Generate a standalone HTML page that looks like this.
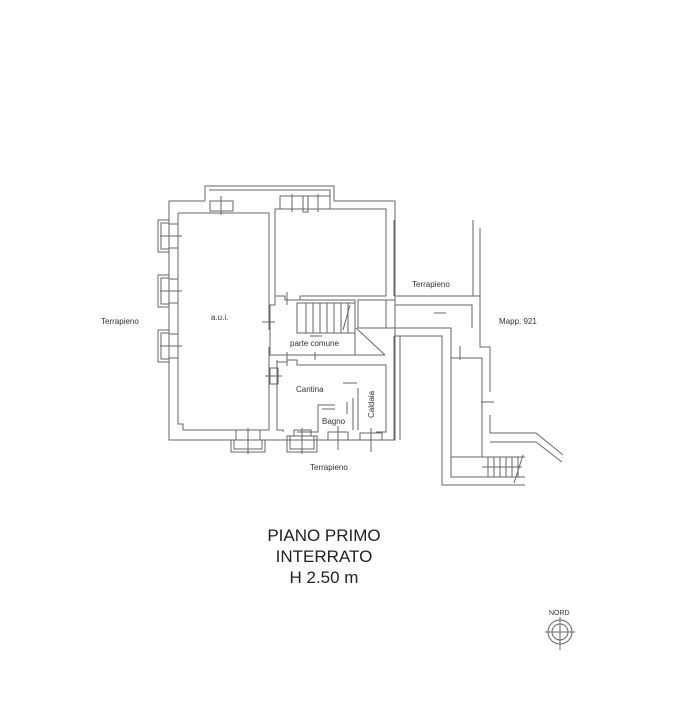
<!DOCTYPE html><html><head><style>body{margin:0;background:#fff}svg{display:block}</style></head><body>
<svg width="673" height="722" viewBox="0 0 673 722" font-family="Liberation Sans, sans-serif">
<g fill="none" stroke="#666" stroke-width="1">
<path d="M205,201 H169 V440 H395 V201 H334"/>
<path d="M205,201 V186 H334 V201"/>
<path d="M209,190 H330 V201"/>
<path d="M178,213 H269 V330 M269,347 V430 H183 V424 H178 V213"/>
<path d="M275,209 H386 V296 H300 V300 H285 V296 H275 Z"/>
<rect x="210" y="201" width="23" height="10"/><line x1="221" y1="196" x2="221" y2="215"/>
<rect x="280" y="196" width="50" height="13"/><line x1="292" y1="194" x2="292" y2="212"/><line x1="318" y1="194" x2="318" y2="212"/><rect x="303" y="196" width="5" height="16"/>
<g><rect x="158" y="220" width="11" height="32"/><rect x="161" y="223" width="8" height="26"/><rect x="169" y="224" width="9" height="24"/><line x1="160" y1="236" x2="182" y2="236"/></g>
<g><rect x="158" y="275" width="11" height="32"/><rect x="161" y="278" width="8" height="26"/><rect x="169" y="279" width="9" height="24"/><line x1="160" y1="291" x2="182" y2="291"/></g>
<g><rect x="158" y="330" width="11" height="32"/><rect x="161" y="333" width="8" height="26"/><rect x="169" y="334" width="9" height="24"/><line x1="160" y1="346" x2="182" y2="346"/></g>
<rect x="236" y="430" width="24" height="10"/><rect x="231" y="440" width="34" height="12"/><rect x="234" y="440" width="28" height="9"/><line x1="248" y1="428" x2="248" y2="454"/>
<rect x="287" y="436" width="30" height="16"/><rect x="290" y="436" width="24" height="13"/><rect x="294" y="430" width="17" height="6"/><line x1="302" y1="428" x2="302" y2="454"/>
<rect x="328" y="432" width="20" height="8"/><line x1="338" y1="426" x2="338" y2="450"/>
<rect x="360" y="433" width="22" height="7"/><line x1="371" y1="428" x2="371" y2="452"/>
<path d="M275,296 V305 H270 V355 H355 M297,300 H355 V355 H385"/>
<rect x="297" y="303" width="58" height="30"/>
<path d="M306,303 V333 M313,303 V333 M320,303 V333 M327,303 V333 M334,303 V333 M341,303 V333 M348,303 V333"/>
<path d="M350,305 L343,330"/>
<rect x="358" y="300" width="28" height="28"/>
<path d="M356,328 L385,355"/>
<path d="M386,300 H395 M386,328 H395"/>
<line x1="287" y1="292" x2="287" y2="305"/><line x1="262" y1="322" x2="275" y2="322"/>
<line x1="310" y1="336" x2="322" y2="336"/>
<path d="M277,360 V430 H283 V432 M297,432 H318 V405 H335"/>
<path d="M277,362 H287 V360 H297 V365 H386 V432 H376"/>
<path d="M358,388 V430 M353,398 V430 M347,402 V414 M322,409 H335"/>
<line x1="343" y1="383" x2="357" y2="383"/>
<rect x="270" y="368" width="8" height="16"/><line x1="265" y1="376" x2="282" y2="376"/>
<line x1="287" y1="352" x2="287" y2="366"/><line x1="315" y1="352" x2="315" y2="360"/>
<path d="M394,220 V296 M473,220 V296"/>
<path d="M395,296 H480 V347 H490 V392 M490,415 V433 H536 L563,455"/>
<path d="M480,228 V296"/>
<path d="M395,305 H472 V328"/>
<path d="M394,328 H451 V477 H525 M394,336 H442 V485 H525"/>
<path d="M394,336 V440 M400,336 V440"/>
<path d="M451,358 H482 V457 H451 M490,442 H536 L562,462"/>
<path d="M482,457 H525 M482,467 H522"/>
<path d="M488,457 V477 M494,457 V477 M500,457 V477 M506,457 V477 M512,457 V477 M518,457 V477"/>
<path d="M523,455 L514,483"/>
<line x1="434" y1="313" x2="446" y2="313"/><line x1="481" y1="402" x2="494" y2="402"/>
<line x1="460" y1="346" x2="460" y2="360"/>
<circle cx="560" cy="632" r="12"/><circle cx="560" cy="632" r="8"/>
<line x1="545" y1="632" x2="575" y2="632"/><line x1="560" y1="617" x2="560" y2="650"/>
</g>
<g fill="#333" font-size="8">
<text x="101" y="324">Terrapieno</text>
<text x="211" y="320">a.u.i.</text>
<text x="290" y="346">parte comune</text>
<text x="296" y="392">Cantina</text>
<text x="322" y="424">Bagno</text>
<text x="374" y="418" transform="rotate(-90 374 418)">Caldaia</text>
<text x="412" y="287">Terrapieno</text>
<text x="499" y="324">Mapp. 921</text>
<text x="310" y="470">Terrapieno</text>
<text x="549" y="615" font-size="7">NORD</text>
</g>
<g fill="#222" font-size="17" text-anchor="middle">
<text x="324" y="541">PIANO PRIMO</text>
<text x="324" y="562">INTERRATO</text>
<text x="324" y="583">H 2.50 m</text>
</g>
</svg></body></html>
